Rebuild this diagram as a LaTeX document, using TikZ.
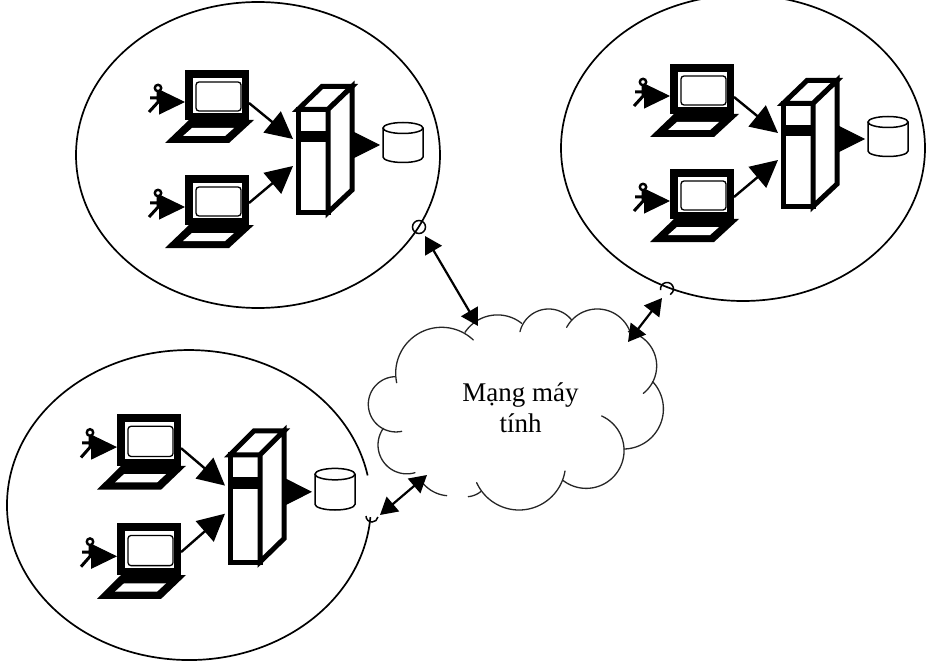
\documentclass[tikz,border=0pt]{standalone}
\usepackage{fontspec}
\setmainfont{Liberation Serif}
\usetikzlibrary{arrows.meta}
\tikzset{
  x=1pt,y=-1pt,
  thinline/.style={draw=black,line width=1.7pt},
  portline/.style={draw=black,line width=1.5pt},
  bigtip/.style={-{Triangle[length=27pt,width=27pt]},line width=2.4pt},
  persontip/.style={-{Triangle[length=26pt,width=25pt]},line width=1pt},
  linkarrow/.style={{Triangle[length=17pt,width=19pt]}-{Triangle[length=17pt,width=19pt]},line width=2.2pt},
  cloudline/.style={draw=black!85,line width=1.3pt,line cap=round},
  heavy/.style={draw=black,line width=5pt,line join=miter},
}
% laptop with its user: #1 prefix, at the current origin
\newcommand{\laptopunit}[1]{
  \coordinate (#1in) at (185,102);
  \coordinate (#1user) at (159,102);
  \fill (185,70) rectangle (249,120);
  \fill[white] (193,78) rectangle (242,113);
  \draw[black,line width=1.3pt,rounded corners=3pt,fill=white] (196,82) rectangle (241,111);
  \fill (185,113) rectangle (249,120);
  \fill (189,120) -- (254,120) -- (229,143) -- (165,143) -- cycle;
  \fill[white] (192,128) -- (234,128) -- (225,136) -- (183,136) -- cycle;
  \draw[black,line width=2.4pt] (158,88) circle (3.2);
  \draw[line width=3pt] (158,92) -- (158,102) (150,98) -- (163,98) (149,112) -- (160,100);
  \draw[persontip] (#1user) -- (#1in);
}
% #1 prefix, #2 #3 shift, #4 vertical scale
\newcommand{\sitegroup}[4]{
  \begin{scope}[shift={(#2,#3)},yscale=#4]
    \begin{scope}[shift={(0,0)}]\laptopunit{#1a}\end{scope}
    \begin{scope}[shift={(0,105)}]\laptopunit{#1b}\end{scope}
    \coordinate (#1taU) at (293,139);
    \coordinate (#1taL) at (293,166);
    \coordinate (#1laU) at (249,103);
    \coordinate (#1laL) at (249,203);
    \draw[bigtip] (#1laU) -- (#1taU);
    \draw[bigtip] (#1laL) -- (#1taL);
    % server
    \draw[heavy,fill=white] (298,109.5) rectangle (328,212.5);
    \fill (301,131) rectangle (326,142);
    \draw[heavy,fill=white] (298,109.5) -- (322,86.5) -- (352,86.5) -- (328,109.5) -- cycle;
    \draw[heavy,fill=white] (328,109.5) -- (352,86.5) -- (352,190) -- (328,212.5) -- cycle;
    \coordinate (#1srv) at (354,145);
    \coordinate (#1db) at (380,145);
    \draw[-{Triangle[length=26pt,width=26pt]},line width=1pt] (#1srv) -- (#1db);
    % database
    \draw[black,line width=1.5pt,fill=white] (383,128) -- (383,157) arc[start angle=180,end angle=360,x radius=20pt,y radius=5.5pt] -- (423,128);
    \draw[black,line width=1.5pt,fill=white] (403,128) circle[x radius=20pt,y radius=5.5pt];
  \end{scope}
}
% circular arc through three points
\newcommand{\cloudarc}[6]{
  \pgfmathsetmacro\bpx{(#3-#1)/100}
  \pgfmathsetmacro\bpy{(#4-#2)/100}
  \pgfmathsetmacro\cpx{(#5-#1)/100}
  \pgfmathsetmacro\cpy{(#6-#2)/100}
  \pgfmathsetmacro\dd{2*(\bpx*\cpy-\bpy*\cpx)}
  \pgfmathsetmacro\bsq{\bpx*\bpx+\bpy*\bpy}
  \pgfmathsetmacro\csq{\cpx*\cpx+\cpy*\cpy}
  \pgfmathsetmacro\ux{(\cpy*\bsq-\bpy*\csq)/\dd}
  \pgfmathsetmacro\uy{(\bpx*\csq-\cpx*\bsq)/\dd}
  \pgfmathsetmacro\crr{100*sqrt(\ux*\ux+\uy*\uy)}
  \pgfmathsetmacro\ccx{#1+100*\ux}
  \pgfmathsetmacro\ccy{#2+100*\uy}
  \pgfmathsetmacro\ta{atan2(-\uy,-\ux)}
  \pgfmathsetmacro\tb{Mod(atan2(\bpy-\uy,\bpx-\ux)-\ta,360)}
  \pgfmathsetmacro\tc{Mod(atan2(\cpy-\uy,\cpx-\ux)-\ta,360)}
  \pgfmathsetmacro\tend{\tb<\tc ? \ta+\tc : \ta+\tc-360}
  \draw[cloudline] plot[domain=\ta:\tend,samples=60,smooth] ({\ccx+\crr*cos(\x)},{\ccy+\crr*sin(\x)});
}
\begin{document}
\begin{tikzpicture}
\useasboundingbox (0,0) rectangle (926,663);
% site outlines
\draw[thinline] (258,155) circle[x radius=182pt,y radius=153pt];
\draw[thinline] (743,148) circle[x radius=182pt,y radius=153pt];
\draw[thinline] (370.4,517.2) arc[start angle=-4.5,end angle=-349,x radius=182pt,y radius=155pt];
\sitegroup{s}{0}{0}{1}
\sitegroup{t}{485}{-6}{1}
\sitegroup{u}{-68}{341}{1.04}
% ports
\coordinate (pa) at (419,227);
\draw[portline] (pa) circle (6.5);
\draw[portline] (660.6,290.1) arc[start angle=190,end angle=-60,radius=6.5pt];
\draw[portline] (366,516) arc[start angle=180,end angle=350,radius=6pt];
% cloud (in the coordinates of a 3x enlargement)
\begin{scope}[shift={(350,270)},scale=1/3]
\cloudarc{370}{210}{270}{172}{140}{338}
\cloudarc{135}{320}{55}{400}{155}{484}
\cloudarc{100}{475}{100}{575}{195}{608}
\cloudarc{215}{635}{250}{665}{290}{677}
\cloudarc{355}{680}{375}{675}{392}{665}
\cloudarc{380}{638}{510}{720}{645}{603}
\cloudarc{640}{632}{822}{535}{755}{438}
\cloudarc{822}{537}{940}{410}{908}{335}
\cloudarc{835}{185}{920}{290}{880}{370}
\cloudarc{840}{185}{740}{117}{650}{172}
\cloudarc{665}{150}{595}{117}{510}{185}
\cloudarc{515}{160}{435}{135}{345}{187}
\end{scope}
% links
\coordinate (ca) at (478,326);
\coordinate (cb) at (628,342);
\coordinate (cc) at (427,475);
\coordinate (la) at (425,236);
\coordinate (lb) at (662,298);
\coordinate (lc) at (380,515);
\draw[linkarrow] (la) -- (ca);
\draw[linkarrow] (lb) -- (cb);
\draw[linkarrow] (lc) -- (cc);
% label
\node[font=\fontsize{27}{31}\selectfont,align=center,inner sep=0pt] (netlabel) at (520.5,408) {Mạng máy\\tính};
\end{tikzpicture}
\end{document}
